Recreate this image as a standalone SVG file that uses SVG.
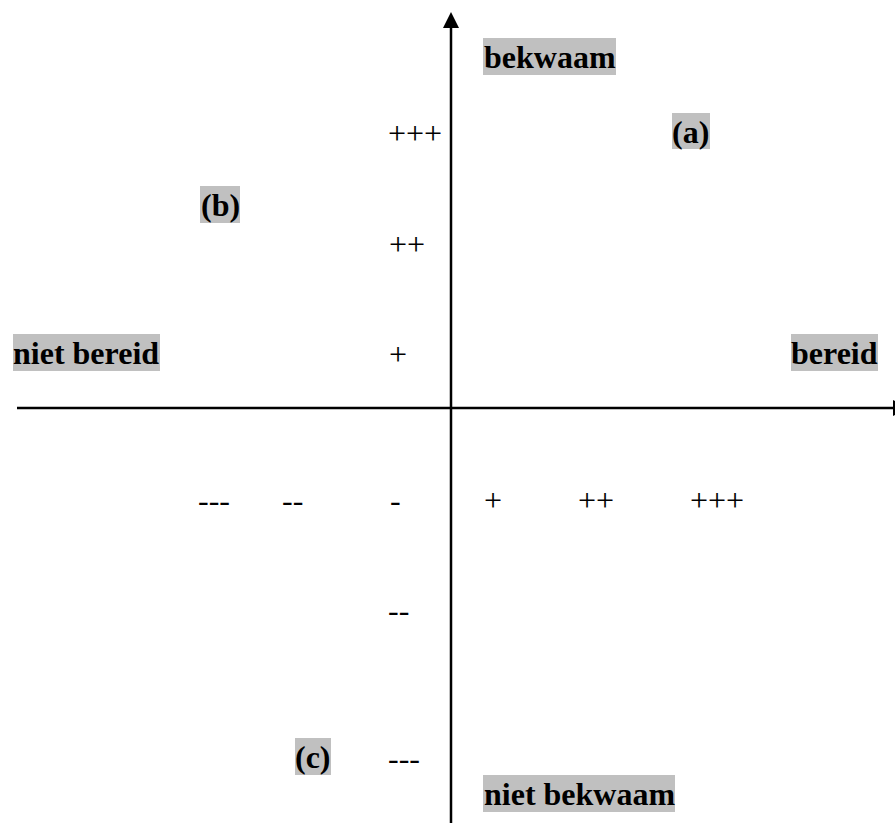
<svg xmlns="http://www.w3.org/2000/svg" width="895" height="823" viewBox="0 0 895 823">
<style>
.lbl{font-family:"Liberation Serif","Times New Roman",serif;font-size:32px;font-weight:bold;fill:#000}
.tick{font-family:"Liberation Serif","Times New Roman",serif;font-size:32px;fill:#000}
.hl{fill:#c0c0c0}
.axis{stroke:#000;stroke-width:2.5;fill:none}
</style>
<rect width="895" height="823" fill="#fff"/>
<g id="connectors">
<line class="axis" x1="451" y1="26" x2="451" y2="823"/>
<polygon points="451,12 443,28 459,28" fill="#000"/>
<line class="axis" x1="17" y1="408" x2="895" y2="408"/>
<polygon points="893,400 909,408 893,416" fill="#000"/>
</g>
<g id="bekwaam"><rect class="hl" x="483" y="38" width="133" height="37"/><text class="lbl" x="484" y="68">bekwaam</text></g>
<g id="niet-bekwaam"><rect class="hl" x="483" y="775" width="192" height="37"/><text class="lbl" x="484" y="805">niet bekwaam</text></g>
<g id="niet-bereid"><rect class="hl" x="13" y="334" width="147" height="37"/><text class="lbl" x="13" y="364">niet bereid</text></g>
<g id="bereid"><rect class="hl" x="791" y="334" width="87" height="37"/><text class="lbl" x="791" y="364">bereid</text></g>
<g id="a"><rect class="hl" x="672" y="113" width="38" height="36"/><text class="lbl" x="672" y="143">(a)</text></g>
<g id="b"><rect class="hl" x="200" y="186" width="40" height="37"/><text class="lbl" x="201" y="216">(b)</text></g>
<g id="c"><rect class="hl" x="295" y="738" width="36" height="37"/><text class="lbl" x="295" y="768">(c)</text></g>
<g id="ticks">
<text class="tick" x="388" y="144">+++</text>
<text class="tick" x="389" y="255">++</text>
<text class="tick" x="389" y="365">+</text>
<text class="tick" x="388" y="621">--</text>
<text class="tick" x="388" y="769">---</text>
<text class="tick" x="198" y="511">---</text>
<text class="tick" x="282" y="511">--</text>
<text class="tick" x="390" y="511">-</text>
<text class="tick" x="484" y="511">+</text>
<text class="tick" x="578" y="511">++</text>
<text class="tick" x="690" y="511">+++</text>
</g>
</svg>
